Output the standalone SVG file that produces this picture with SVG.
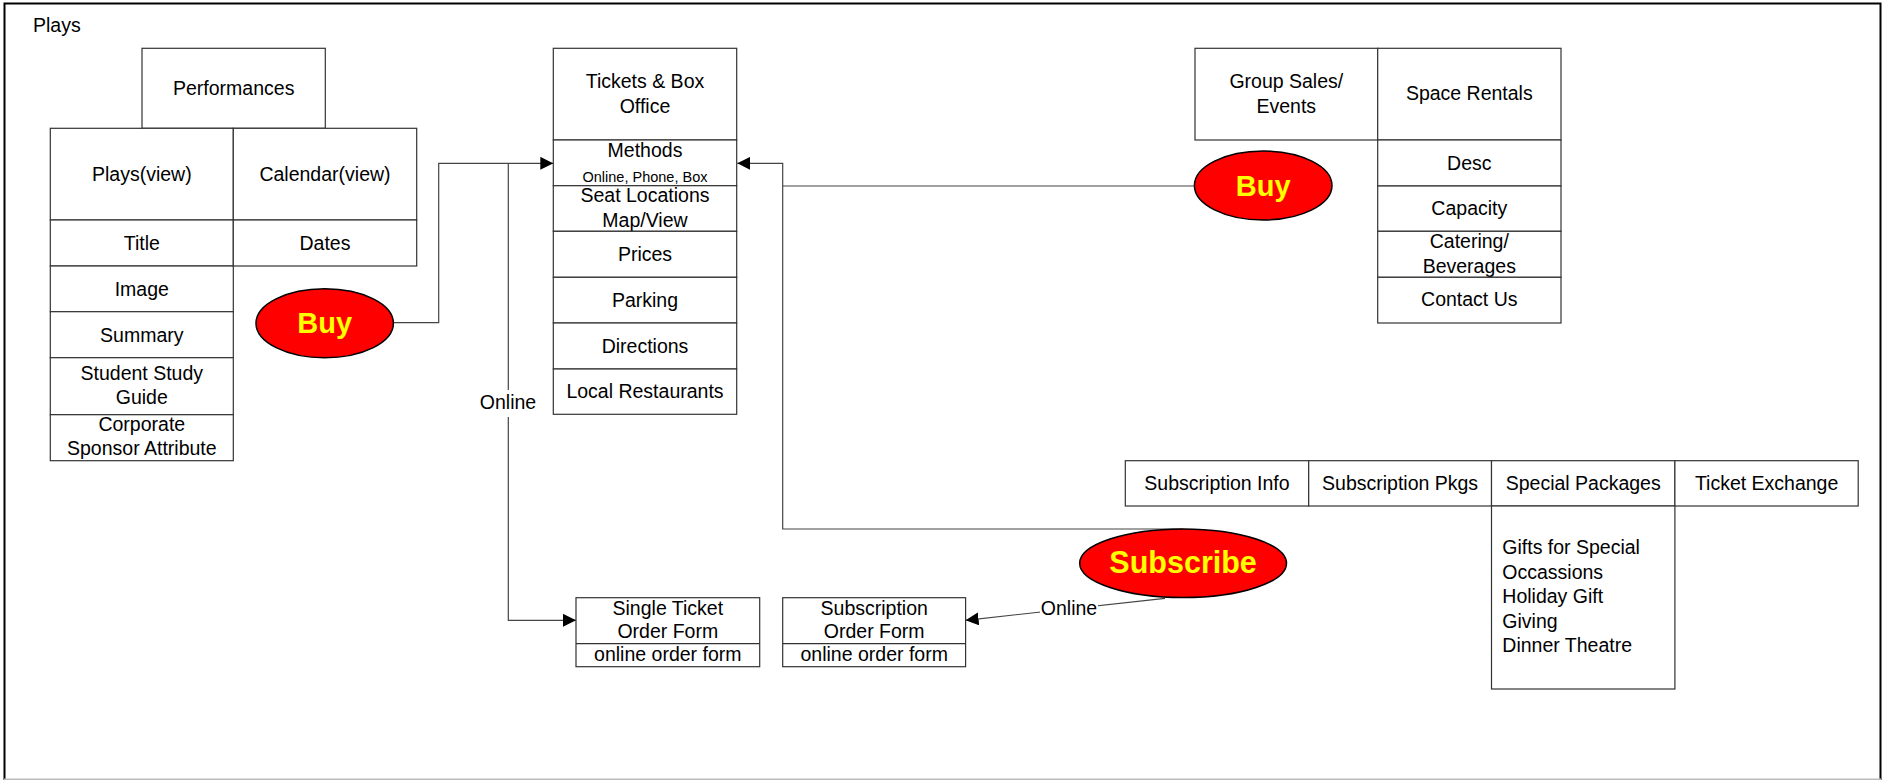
<svg xmlns="http://www.w3.org/2000/svg" width="1893" height="780" viewBox="0 0 1893 780">
<defs>
<marker id="arr" viewBox="0 0 12 12" refX="12" refY="6" markerWidth="13" markerHeight="13" markerUnits="userSpaceOnUse" orient="auto"><path d="M0,0 L12,6 L0,12 z" fill="#000"/></marker>
</defs>
<style>
.b{fill:#fff;stroke:#333;stroke-width:1.2}
.t{font-family:"Liberation Sans",Arial,sans-serif;font-size:19.5px;fill:#000;text-anchor:middle}
.s{font-size:14.5px}
.l{text-anchor:start}
.c{fill:none;stroke:#444;stroke-width:1.2}
.e{fill:#ff0000;stroke:#000;stroke-width:1.5}
.et{font-family:"Liberation Sans",Arial,sans-serif;font-weight:bold;fill:#ffff00;text-anchor:middle}
</style>
<rect x="0" y="0" width="1893" height="780" fill="#fff"/>
<path d="M4.5,780 V3.5 H1880.5 V780" fill="none" stroke="#000" stroke-width="2"/>
<line x1="4" y1="779.3" x2="1881" y2="779.3" stroke="#bbb" stroke-width="1.5"/>
<text class="t l" x="33" y="32">Plays</text>

<g id="connectors">
<path class="c" d="M393.3,322.7 H438.7 V163.3 H553.3" marker-end="url(#arr)"/>
<path class="c" d="M508.3,163.3 V620.3 H576" marker-end="url(#arr)"/>
<path class="c" d="M1194.3,186 H782.7 V163.3 H737.3" marker-end="url(#arr)"/>
<path class="c" d="M1183,529 H782.7 V186"/>
<path class="c" d="M1165,598.3 L965.6,620.3" marker-end="url(#arr)"/>
<rect x="478" y="390" width="60" height="27" fill="#fff"/>
<text class="t" x="508" y="409">Online</text>
<rect x="1040" y="601" width="58" height="20" fill="#fff"/>
<text class="t" x="1069" y="615">Online</text>
</g>

<g id="performances">
<rect class="b" x="142" y="48.3" width="183.3" height="80"/>
<text class="t" x="233.7" y="95">Performances</text>
</g>
<g id="plays-view">
<rect class="b" x="50.3" y="128.3" width="183" height="91.7"/>
<text class="t" x="141.8" y="181">Plays(view)</text>
<rect class="b" x="50.3" y="220" width="183" height="46"/>
<text class="t" x="141.8" y="250">Title</text>
<rect class="b" x="50.3" y="266" width="183" height="45.7"/>
<text class="t" x="141.8" y="295.5">Image</text>
<rect class="b" x="50.3" y="311.7" width="183" height="46"/>
<text class="t" x="141.8" y="341.5">Summary</text>
<rect class="b" x="50.3" y="357.7" width="183" height="57"/>
<text class="t" x="141.8" y="380">Student Study</text>
<text class="t" x="141.8" y="404">Guide</text>
<rect class="b" x="50.3" y="414.7" width="183" height="46"/>
<text class="t" x="141.8" y="430.7">Corporate</text>
<text class="t" x="141.8" y="455">Sponsor Attribute</text>
</g>
<g id="calendar-view">
<rect class="b" x="233.3" y="128.3" width="183.4" height="91.7"/>
<text class="t" x="325" y="181">Calendar(view)</text>
<rect class="b" x="233.3" y="220" width="183.4" height="46"/>
<text class="t" x="325" y="250">Dates</text>
</g>
<g id="buy1">
<ellipse class="e" cx="324.7" cy="323.2" rx="68.7" ry="34.5"/>
<text class="et" x="324.7" y="333.3" font-size="29">Buy</text>
</g>

<g id="tickets">
<rect class="b" x="553.3" y="48.3" width="183.4" height="91.7"/>
<text class="t" x="645" y="88.3">Tickets &amp; Box</text>
<text class="t" x="645" y="113.3">Office</text>
<rect class="b" x="553.3" y="140" width="183.4" height="45.7"/>
<text class="t" x="645" y="156.7">Methods</text>
<text class="t s" x="645" y="181.7">Online, Phone, Box</text>
<rect class="b" x="553.3" y="185.7" width="183.4" height="45.6"/>
<text class="t" x="645" y="202.3">Seat Locations</text>
<text class="t" x="645" y="226.7">Map/View</text>
<rect class="b" x="553.3" y="231.3" width="183.4" height="46"/>
<text class="t" x="645" y="260.5">Prices</text>
<rect class="b" x="553.3" y="277.3" width="183.4" height="45.7"/>
<text class="t" x="645" y="306.5">Parking</text>
<rect class="b" x="553.3" y="323" width="183.4" height="46"/>
<text class="t" x="645" y="352.7">Directions</text>
<rect class="b" x="553.3" y="369" width="183.4" height="45.3"/>
<text class="t" x="645" y="398.3">Local Restaurants</text>
</g>

<g id="group-sales">
<rect class="b" x="1195" y="48.3" width="182.7" height="91.7"/>
<text class="t" x="1286.3" y="88.3">Group Sales/</text>
<text class="t" x="1286.3" y="113.3">Events</text>
</g>
<g id="space-rentals">
<rect class="b" x="1377.7" y="48.3" width="183.3" height="91.7"/>
<text class="t" x="1469.3" y="100">Space Rentals</text>
<rect class="b" x="1377.7" y="140" width="183.3" height="46"/>
<text class="t" x="1469.3" y="169.5">Desc</text>
<rect class="b" x="1377.7" y="186" width="183.3" height="45.3"/>
<text class="t" x="1469.3" y="215">Capacity</text>
<rect class="b" x="1377.7" y="231.3" width="183.3" height="46"/>
<text class="t" x="1469.3" y="248.3">Catering/</text>
<text class="t" x="1469.3" y="273.3">Beverages</text>
<rect class="b" x="1377.7" y="277.3" width="183.3" height="45.7"/>
<text class="t" x="1469.3" y="306">Contact Us</text>
</g>
<g id="buy2">
<ellipse class="e" cx="1263.2" cy="185.5" rx="68.8" ry="34.5"/>
<text class="et" x="1263.2" y="195.5" font-size="29">Buy</text>
</g>

<g id="subscription-info">
<rect class="b" x="1125.3" y="460.7" width="183.4" height="45.3"/>
<text class="t" x="1217" y="490">Subscription Info</text>
</g>
<g id="subscription-pkgs">
<rect class="b" x="1308.7" y="460.7" width="182.8" height="45.3"/>
<text class="t" x="1400.1" y="490">Subscription Pkgs</text>
</g>
<g id="special-packages">
<rect class="b" x="1491.5" y="460.7" width="183.4" height="45.3"/>
<text class="t" x="1583.2" y="490">Special Packages</text>
<rect class="b" x="1491.5" y="506" width="183.4" height="183"/>
<text class="t l" x="1502.3" y="554">Gifts for Special</text>
<text class="t l" x="1502.3" y="579">Occassions</text>
<text class="t l" x="1502.3" y="603.3">Holiday Gift</text>
<text class="t l" x="1502.3" y="627.5">Giving</text>
<text class="t l" x="1502.3" y="652.3">Dinner Theatre</text>
</g>
<g id="ticket-exchange">
<rect class="b" x="1674.9" y="460.7" width="183.3" height="45.3"/>
<text class="t" x="1766.6" y="490">Ticket Exchange</text>
</g>
<g id="subscribe">
<ellipse class="e" cx="1183.1" cy="563.3" rx="103.4" ry="34.3"/>
<text class="et" x="1183.1" y="572.5" font-size="30.5">Subscribe</text>
</g>

<g id="single-ticket-form">
<rect class="b" x="576" y="597.7" width="183.7" height="69"/>
<line class="b" x1="576" y1="643.7" x2="759.7" y2="643.7"/>
<text class="t" x="667.8" y="615">Single Ticket</text>
<text class="t" x="667.8" y="638.3">Order Form</text>
<text class="t" x="667.8" y="660.7">online order form</text>
</g>
<g id="subscription-form">
<rect class="b" x="782.7" y="597.7" width="182.9" height="69"/>
<line class="b" x1="782.7" y1="643.7" x2="965.6" y2="643.7"/>
<text class="t" x="874.2" y="615">Subscription</text>
<text class="t" x="874.2" y="638.3">Order Form</text>
<text class="t" x="874.2" y="660.7">online order form</text>
</g>
</svg>
